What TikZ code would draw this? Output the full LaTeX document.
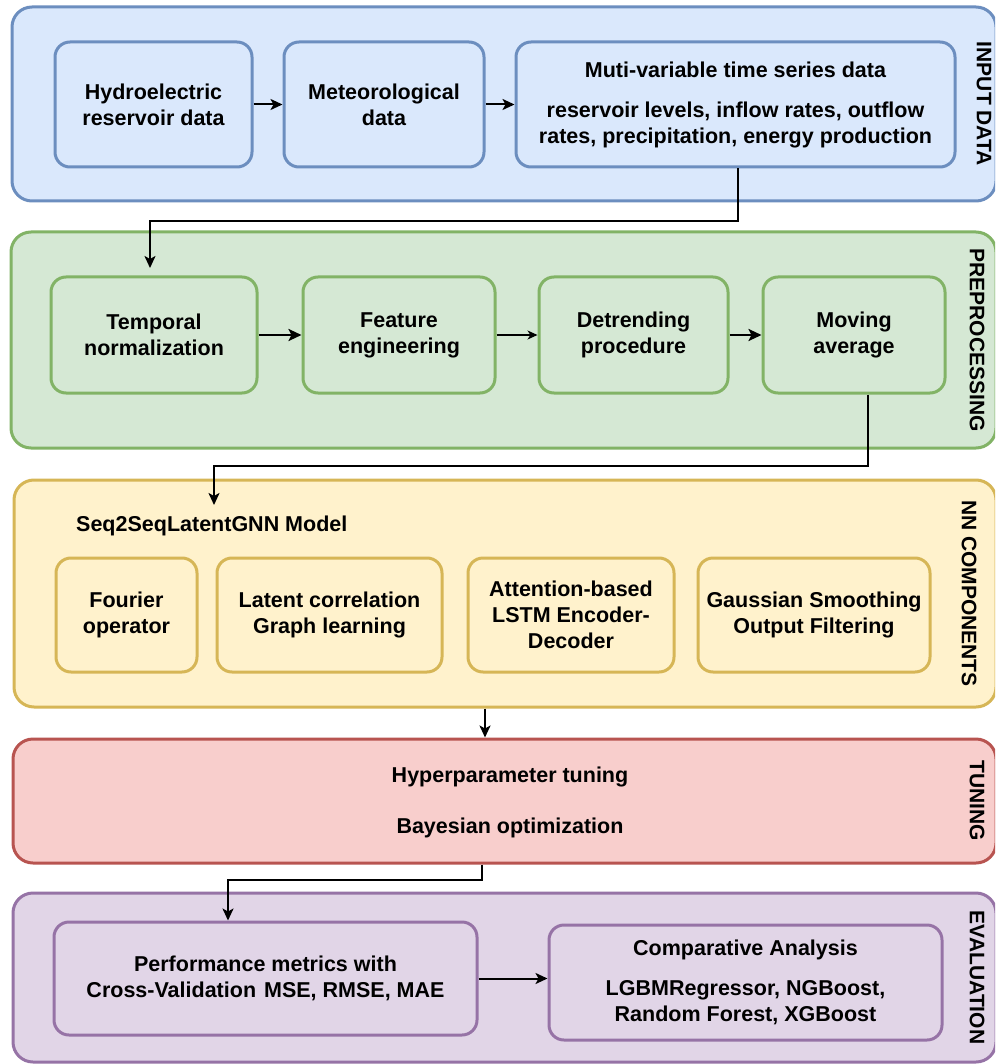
\documentclass[tikz,border=0pt]{standalone}
\usepackage{fontspec}
\setmainfont{Liberation Sans}
\usetikzlibrary{arrows.meta}
\definecolor{bfill}{HTML}{DAE8FC}\definecolor{bline}{HTML}{6C8EBF}
\definecolor{gfill}{HTML}{D5E8D4}\definecolor{gline}{HTML}{82B366}
\definecolor{yfill}{HTML}{FFF2CC}\definecolor{yline}{HTML}{D6B656}
\definecolor{rfill}{HTML}{F8CECC}\definecolor{rline}{HTML}{B85450}
\definecolor{pfill}{HTML}{E1D5E7}\definecolor{pline}{HTML}{9673A6}
\tikzset{
  panel/.style={draw, line width=3pt, rounded corners=20pt, inner sep=0pt},
  box/.style={draw, line width=3pt, rounded corners=15pt, align=center, inner sep=0pt,
    font=\bfseries\fontsize{21.5}{26}\selectfont},
  txt/.style={align=center, inner sep=0pt, font=\bfseries\fontsize{21.5}{26}\selectfont},
  lab/.style={rotate=-90, inner sep=0pt, font=\bfseries\fontsize{21}{25}\selectfont},
  arr/.style={-{Stealth[length=12pt,width=11pt,inset=3pt]}, line width=2pt},
  arrthin/.style={-{Stealth[length=10pt,width=9pt,inset=3pt]}, line width=1.1pt},
  arrthick/.style={-{Stealth[length=13pt,width=12pt,inset=3pt]}, line width=2.8pt},
  blue/.style={fill=bfill, draw=bline},
  green/.style={fill=gfill, draw=gline},
  yellow/.style={fill=yfill, draw=yline},
  red/.style={fill=rfill, draw=rline},
  purple/.style={fill=pfill, draw=pline},
}
\begin{document}
\begin{tikzpicture}[x=1pt,y=-1pt]
\useasboundingbox (0,0) rectangle (995,1064);
\clip (0,0) rectangle (995,1064);
\fill[white] (0,0) rectangle (995,1064);

% ---------- INPUT DATA ----------
\node[panel, blue, minimum width=984pt, minimum height=194pt] (p1) at (504,104) {};
\node[box, blue, minimum width=197pt, minimum height=125pt] (hyd) at (153.5,104.5) {Hydroelectric\\reservoir data};
\node[box, blue, minimum width=200pt, minimum height=125pt] (met) at (384,104.5) {Meteorological\\data};
\node[box, blue, minimum width=439pt, minimum height=125pt] (mul) at (735.5,104.5)
  {Muti-variable time series data\\[14pt]reservoir levels, inflow rates, outflow\\rates, precipitation, energy production};
\node[lab] (l1) at (984,104) {INPUT DATA};
\draw[arr] (hyd.east) -- (met.west);
\draw[arr] (met.east) -- (mul.west);

% ---------- PREPROCESSING ----------
\node[panel, green, minimum width=985pt, minimum height=216pt] (p2) at (503.5,340) {};
\node[box, green, minimum width=206pt, minimum height=116pt] (tem) at (154,335) {Temporal\\normalization};
\node[box, green, minimum width=192pt, minimum height=116pt] (fea) at (399,335) {Feature\\engineering};
\node[box, green, minimum width=189pt, minimum height=116pt] (det) at (633.5,335) {Detrending\\procedure};
\node[box, green, minimum width=182pt, minimum height=116pt] (mov) at (854,335) {Moving\\average};
\node[lab] (l2) at (977,340) {PREPROCESSING};
\draw[arrthick] (tem.east) -- (fea.west);
\draw[arrthin] (fea.east) -- (det.west);
\draw[arrthick] (det.east) -- (mov.west);

\coordinate (c1) at (150,268);
\draw[arr] ([xshift=2.5pt]mul.south) -- ++(0,53) -| (c1);

% ---------- NN COMPONENTS ----------
\node[panel, yellow, minimum width=982pt, minimum height=227pt] (p3) at (505,593.5) {};
\node[txt, anchor=west] (seq) at (76,526) {Seq2SeqLatentGNN Model};
\node[box, yellow, minimum width=141pt, minimum height=114pt] (fou) at (126.5,615) {Fourier\\operator};
\node[box, yellow, minimum width=225pt, minimum height=114pt] (lat) at (329.5,615) {Latent correlation\\Graph learning};
\node[box, yellow, minimum width=206pt, minimum height=114pt] (att) at (571,615) {Attention-based\\LSTM Encoder-\\Decoder};
\node[box, yellow, minimum width=232pt, minimum height=114pt] (gau) at (814,615) {Gaussian Smoothing\\Output Filtering};
\node[lab] (l3) at (969,593.5) {NN COMPONENTS};

\coordinate (c2) at (214,505);
\draw[arr] ([xshift=14pt]mov.south) -- ++(0,71) -| (c2);

% ---------- TUNING ----------
\node[panel, red, minimum width=983pt, minimum height=124pt] (p4) at (504.5,801) {};
\node[txt] (hyp) at (510,777) {Hyperparameter tuning};
\node[txt] (bay) at (510,828) {Bayesian optimization};
\node[lab] (l4) at (977,801) {TUNING};

\draw[arr] ([xshift=-20pt]p3.south) -- ([xshift=-19.5pt]p4.north);

% ---------- EVALUATION ----------
\node[panel, purple, minimum width=983pt, minimum height=169pt] (p5) at (504.5,977.5) {};
\node[box, purple, minimum width=423pt, minimum height=113pt] (perf) at (265.5,978.5)
  {Performance metrics with\\Cross-Validation\hspace{8pt}MSE, RMSE, MAE};
\node[box, purple, minimum width=393pt, minimum height=115pt] (comp) at (745.5,982.5)
  {Comparative Analysis\\[14pt]LGBMRegressor, NGBoost,\\Random Forest, XGBoost};
\node[lab] (l5) at (977,977.5) {EVALUATION};

\draw[arr] ([xshift=-22.5pt]p4.south) -- ++(0,15) -| ([xshift=-37.5pt]perf.north);
\draw[arr] (perf.east) -- (perf.east -| comp.west);
\end{tikzpicture}
\end{document}
